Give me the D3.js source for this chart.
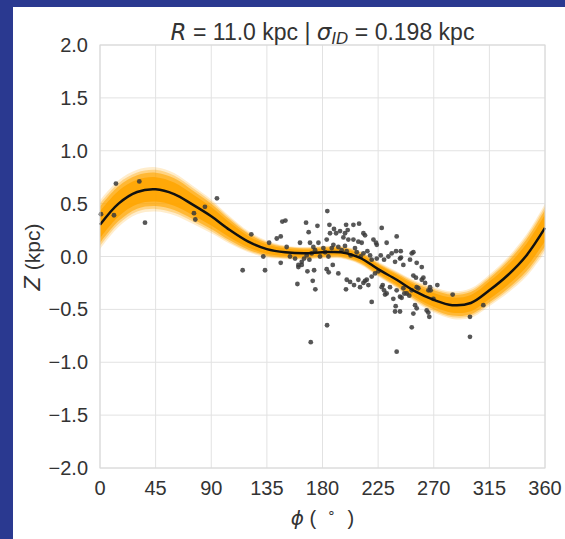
<!DOCTYPE html>
<html>
<head>
  <meta charset="utf-8">
  <title>Warp fit R = 11 kpc</title>
  <script src="https://cdn.jsdelivr.net/npm/d3@7/dist/d3.min.js"></script>
  <style>
    body { margin: 0; background: #2a3990; }
    text { font-family: "Liberation Sans", Arial, sans-serif; fill: #333; }
    .math { font-family: "DejaVu Sans", sans-serif; font-style: italic; }
  </style>
</head>
<body>
  <svg width="565" height="539"></svg>

  <script>
    // model curve (mean of posterior) sampled every 15 deg
    const modelPhi = [0, 15, 30, 45, 60, 75, 90, 105, 120, 135, 150, 165, 180,
                      195, 210, 225, 240, 255, 270, 285, 300, 315, 330, 345, 360];
    const modelZ = [0.30, 0.50, 0.61, 0.635, 0.59, 0.49, 0.38, 0.25, 0.14, 0.07, 0.04, 0.03, 0.04,
                    0.04, -0.01, -0.12, -0.22, -0.33, -0.41, -0.46, -0.44, -0.32, -0.175, 0.01, 0.27];
    // half width of the posterior band
    const bandSpread = [0.23, 0.22, 0.21, 0.21, 0.20, 0.18, 0.16, 0.13, 0.10, 0.08, 0.065, 0.06, 0.06,
                        0.06, 0.065, 0.07, 0.08, 0.10, 0.12, 0.13, 0.14, 0.15, 0.17, 0.20, 0.23];

    // observed stars
    const starPhi = [0.8, 11.3, 12.9, 31.8, 36.4, 76.0, 77.1, 84.9, 94.6, 122.4, 132.1, 136.8,
      183.9, 147.5, 150.0, 166.7, 185.6, 175.9, 199.1, 205.0, 209.6, 227.9, 168.8, 186.1, 191.0, 194.2,
      189.3, 198.2, 200.4, 213.1, 214.4, 240.0, 143.0, 146.2, 161.8, 176.7, 169.9, 183.4, 196.9, 200.9,
      205.0, 209.0, 211.7, 221.2, 223.3, 223.9, 231.9, 239.5, 243.3, 252.2, 253.5, 133.5, 115.4, 151.0,
      153.7, 157.8, 160.5, 163.2, 165.1, 167.2, 169.4, 171.3, 172.6, 174.0, 178.0, 180.7, 182.1, 184.8,
      187.5, 188.8, 192.8, 195.5, 198.2, 199.6, 202.8, 206.3, 207.7, 210.9, 213.1, 216.3, 218.5, 219.8,
      223.9, 227.1, 229.8, 233.3, 236.0, 238.7, 242.7, 245.4, 250.8, 256.2, 260.3, 146.2, 160.5, 163.2,
      167.8, 172.1, 173.2, 174.2, 183.4, 185.0, 188.3, 192.8, 199.0, 199.6, 202.3, 205.5, 209.0, 210.4,
      213.1, 214.4, 215.8, 217.1, 159.7, 219.8, 222.5, 225.2, 228.7, 229.8, 231.9, 234.6, 237.3, 240.0,
      242.7, 245.4, 248.1, 252.2, 254.9, 256.2, 253.5, 261.6, 260.3, 263.0, 265.7, 239.2, 238.7, 242.7,
      219.8, 230.6, 227.9, 170.5, 183.7, 240.0, 252.2,
      243.5, 253.5, 255.6, 256.2, 257.5, 267.0, 267.5, 272.9, 246.2, 244.0, 250.2, 264.3, 265.6, 266.4,
      269.7, 285.3, 310.1, 299.3, 299.3];
    const starZ = [0.40, 0.39, 0.69, 0.71, 0.32, 0.41, 0.35, 0.47, 0.55, 0.21, 0.0, 0.13,
      0.43, 0.33, 0.34, 0.32, 0.30, 0.29, 0.30, 0.30, 0.31, 0.27, 0.23, 0.22, 0.22, 0.24,
      0.26, 0.22, 0.25, 0.22, 0.20, 0.19, 0.17, 0.19, 0.13, 0.13, 0.13, 0.16, 0.18, 0.16,
      0.16, 0.14, 0.13, 0.16, 0.13, 0.11, 0.13, 0.05, 0.05, 0.03, 0.04, -0.13, -0.13, 0.09,
      0.0, -0.02, -0.08, -0.05, -0.02, 0.01, -0.03, 0.03, 0.09, 0.06, 0.0, 0.08, 0.04, 0.0,
      0.08, 0.11, 0.09, 0.06, 0.10, 0.05, 0.01, 0.08, 0.04, 0.0, 0.03, 0.05, 0.01, -0.03,
      -0.02, 0.01, -0.03, 0.0, 0.03, -0.05, -0.02, -0.08, -0.03, -0.06, -0.10, -0.06, -0.10, -0.08,
      -0.14, -0.23, -0.13, -0.31, -0.12, -0.15, -0.08, -0.16, -0.31, -0.22, -0.24, -0.27, -0.22, -0.29,
      -0.25, -0.23, -0.22, -0.27, -0.26, -0.19, -0.16, -0.14, -0.27, -0.32, -0.35, -0.29, -0.40, -0.32,
      -0.38, -0.30, -0.35, -0.32, -0.46, -0.49, -0.54, -0.20, -0.22, -0.25, -0.32, -0.47, -0.52, -0.52,
      -0.43, -0.36, -0.29, -0.81, -0.65, -0.90, -0.67,
      -0.01, -0.18, -0.20, -0.29, -0.30, -0.29, -0.32, -0.27, -0.35, -0.39, -0.37, -0.51, -0.53, -0.57,
      -0.40, -0.36, -0.46, -0.57, -0.76];

    const xTicks = [0, 45, 90, 135, 180, 225, 270, 315, 360];
    const yTicks = [-2.0, -1.5, -1.0, -0.5, 0.0, 0.5, 1.0, 1.5, 2.0];

    const svg = d3.select("svg");
    const width = +svg.attr("width");
    const height = +svg.attr("height");

    // white figure panel over the blue page
    svg.append("rect")
      .attr("x", 13).attr("y", 7)
      .attr("width", width - 13).attr("height", height - 7)
      .attr("fill", "#fff");

    const plot = { left: 100, right: 545, top: 45, bottom: 468 };

    const x = d3.scaleLinear().domain([0, 360]).range([plot.left, plot.right]);
    const y = d3.scaleLinear().domain([-2, 2]).range([plot.bottom, plot.top]);

    const fmt = v => d3.format(".1f")(v).replace("-", "\u2212");

    // grid
    const grid = svg.append("g").attr("stroke", "#e2e2e2").attr("stroke-width", 1);
    grid.selectAll(".gx").data(xTicks).join("line")
      .attr("x1", d => x(d)).attr("x2", d => x(d))
      .attr("y1", plot.top).attr("y2", plot.bottom);
    grid.selectAll(".gy").data(yTicks).join("line")
      .attr("x1", plot.left).attr("x2", plot.right)
      .attr("y1", d => y(d)).attr("y2", d => y(d));

    const model = modelPhi.map((p, i) => ({ phi: p, z: modelZ[i], s: bandSpread[i] }));

    // posterior band, drawn as a few nested layers
    const layers = [
      { k: 1.0, op: 0.2 },
      { k: 0.88, op: 0.35 },
      { k: 0.75, op: 0.6 },
      { k: 0.55, op: 0.85 }
    ];
    layers.forEach(l => {
      const area = d3.area()
        .curve(d3.curveCatmullRom)
        .x(d => x(d.phi))
        .y0(d => y(d.z - d.s * l.k))
        .y1(d => y(d.z + d.s * l.k));
      svg.append("path")
        .datum(model)
        .attr("fill", "#ffa500")
        .attr("fill-opacity", l.op)
        .attr("d", area);
    });

    // stars
    svg.append("g").selectAll("circle")
      .data(starPhi.map((p, i) => ({ phi: p, z: starZ[i] })))
      .join("circle")
      .attr("cx", d => x(d.phi))
      .attr("cy", d => y(d.z))
      .attr("r", 2.4)
      .attr("fill", "#3a3a3a")
      .attr("fill-opacity", 0.85);

    // mean curve
    const line = d3.line()
      .curve(d3.curveCatmullRom)
      .x(d => x(d.phi))
      .y(d => y(d.z));
    svg.append("path")
      .datum(model)
      .attr("fill", "none")
      .attr("stroke", "#111")
      .attr("stroke-width", 2.5)
      .attr("d", line);

    // frame
    svg.append("rect")
      .attr("x", plot.left).attr("y", plot.top)
      .attr("width", plot.right - plot.left).attr("height", plot.bottom - plot.top)
      .attr("fill", "none").attr("stroke", "#d8d8d8").attr("stroke-width", 1);

    // tick labels
    svg.append("g").selectAll("text").data(yTicks).join("text")
      .attr("x", 88).attr("y", d => y(d) + 7)
      .attr("text-anchor", "end")
      .attr("font-size", 20)
      .text(fmt);
    svg.append("g").selectAll("text").data(xTicks).join("text")
      .attr("x", d => x(d)).attr("y", 495)
      .attr("text-anchor", "middle")
      .attr("font-size", 20)
      .text(d => d);

    // title
    const title = svg.append("text")
      .attr("x", (plot.left + plot.right) / 2).attr("y", 40)
      .attr("text-anchor", "middle")
      .attr("font-size", 23);
    title.append("tspan").attr("class", "math").text("R");
    title.append("tspan").text(" = 11.0 kpc | ");
    title.append("tspan").attr("class", "math").text("σ");
    title.append("tspan").attr("class", "math").attr("font-size", 16).attr("dy", 4).text("ID");
    title.append("tspan").attr("dy", -4).text(" = 0.198 kpc");

    // axis labels (non-breaking spaces keep the wide mathtext spacing)
    const xl = svg.append("text")
      .attr("x", (plot.left + plot.right) / 2).attr("y", 525)
      .attr("text-anchor", "middle")
      .attr("font-size", 20);
    xl.append("tspan").attr("class", "math").text("ϕ");
    xl.append("tspan").text("\u00a0(\u00a0\u00a0");
    xl.append("tspan").attr("font-size", 14).attr("dy", -8).text("∘");
    xl.append("tspan").attr("dy", 8).text("\u00a0\u00a0)");

    const yl = svg.append("text")
      .attr("transform", "translate(40,257) rotate(-90)")
      .attr("text-anchor", "middle")
      .attr("font-size", 21);
    yl.append("tspan").attr("class", "math").text("Z");
    yl.append("tspan").text(" (kpc)");
  </script>
</body>
</html>
